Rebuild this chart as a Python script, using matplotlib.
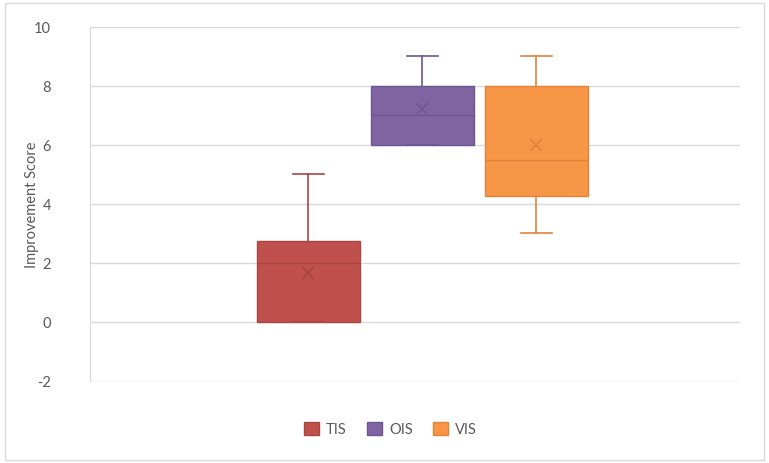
import matplotlib
matplotlib.use("Agg")
import matplotlib.pyplot as plt
from matplotlib.patches import Patch

# Box plot summary values per group
groups = ['TIS', 'OIS', 'VIS']
low = [0, 6, 3]
q1 = [0, 6, 4.25]
median = [2, 7, 5.5]
q3 = [2.75, 8, 8]
high = [5, 9, 9]
mean = [1.67, 7.2, 6.0]

fills = ['#C0504D', '#8064A2', '#F79646']
edges = ['#A84542', '#6E5690', '#E0843C']

yticks = [-2, 0, 2, 4, 6, 8, 10]

plt.rcParams['font.family'] = ['Lato', 'DejaVu Sans']
plt.rcParams['axes.unicode_minus'] = False

fig = plt.figure(figsize=(7.69, 4.64), dpi=100)
ax = fig.add_axes([0.117, 0.177, 0.845, 0.763])

stats = []
for i, g in enumerate(groups):
    stats.append(dict(label=g, whislo=low[i], q1=q1[i], med=median[i],
                      q3=q3[i], whishi=high[i], mean=mean[i], fliers=[]))

positions = [1, 2, 3]
for i, s in enumerate(stats):
    ax.bxp([s], positions=[positions[i]], widths=0.91, patch_artist=True,
           showmeans=True, showfliers=False,
           boxprops=dict(facecolor=fills[i], edgecolor=edges[i], linewidth=1),
           medianprops=dict(color=edges[i], linewidth=1),
           whiskerprops=dict(color=edges[i], linewidth=1.2),
           capprops=dict(color=edges[i], linewidth=1.2),
           capwidths=0.27,
           meanprops=dict(marker='x', markeredgecolor=edges[i],
                          markersize=9, markeredgewidth=1.2),
           zorder=3)

ax.set_xlim(-0.917, 4.785)
ax.set_ylim(-2, 10)
ax.set_yticks(yticks)
ax.set_xticks([])
ax.yaxis.grid(True, color='#D9D9D9', linewidth=1)
ax.set_axisbelow(True)
for side in ['top', 'right', 'bottom']:
    ax.spines[side].set_visible(False)
ax.spines['left'].set_color('#D9D9D9')
ax.tick_params(axis='y', length=0, labelsize=10.5, labelcolor='#595959', pad=28)
ax.set_ylabel('Improvement Score', fontsize=10.5, color='#595959')
ax.yaxis.set_label_coords(-0.078, 0.5)

handles = [Patch(facecolor=fills[i], edgecolor=edges[i]) for i in range(3)]
fig.legend(handles, groups, loc='center', bbox_to_anchor=(0.508, 0.073), ncol=3,
           frameon=False, fontsize=10.5, labelcolor='#595959',
           handlelength=1.0, handleheight=1.0, handletextpad=0.5, columnspacing=1.4)

# light chart-area border
fig.patches.append(plt.Rectangle((0.006, 0.006), 0.988, 0.985, transform=fig.transFigure,
                                 fill=False, edgecolor='#D9D9D9', linewidth=1))

fig.savefig('out.png', dpi=100)
